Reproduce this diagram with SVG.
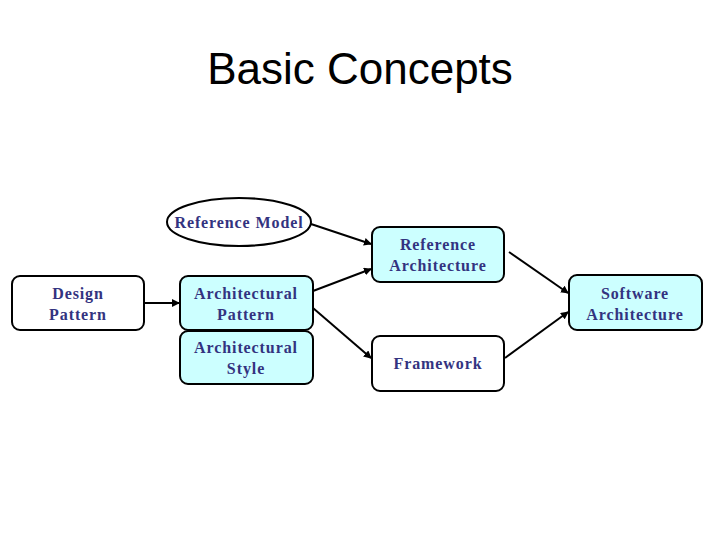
<svg xmlns="http://www.w3.org/2000/svg" width="720" height="540" viewBox="0 0 720 540">
<style>
.box{stroke:#000;stroke-width:2;}
.fill{fill:#CCFFFF;}
.white{fill:#FFFFFF;}
.lbl{font-family:"Liberation Serif","Times New Roman",serif;font-weight:bold;font-size:16px;letter-spacing:0.9px;fill:#333380;text-anchor:middle;}
.title{font-family:"Liberation Sans",Arial,sans-serif;font-size:44px;fill:#000;text-anchor:middle;}
.conn{stroke:#000;stroke-width:2;fill:none;marker-end:url(#ah);}
</style>
<defs>
<marker id="ah" markerWidth="8" markerHeight="8" refX="7" refY="4" orient="auto" markerUnits="userSpaceOnUse">
<path d="M0,0 L8,4 L0,8 z" fill="#000"/>
</marker>
</defs>
<rect width="720" height="540" fill="#fff"/>
<text class="title" x="360" y="84">Basic Concepts</text>
<g id="connectors">
<line class="conn" x1="144" y1="303" x2="179" y2="303"/>
<line class="conn" x1="311" y1="224" x2="371" y2="244"/>
<line class="conn" x1="313" y1="291" x2="371" y2="269"/>
<line class="conn" x1="313" y1="308" x2="371" y2="358"/>
<line class="conn" x1="509" y1="252" x2="568" y2="293"/>
<line class="conn" x1="505" y1="358" x2="568" y2="312"/>
</g>
<g id="reference-model">
<ellipse class="box white" cx="239" cy="222" rx="72" ry="24"/>
<text class="lbl" x="239" y="228">Reference Model</text>
</g>
<g id="reference-architecture">
<rect class="box fill" x="372" y="227" width="132" height="55" rx="8"/>
<text class="lbl" x="438" y="250">Reference</text>
<text class="lbl" x="438" y="271">Architecture</text>
</g>
<g id="design-pattern">
<rect class="box white" x="12" y="276" width="132" height="54" rx="8"/>
<text class="lbl" x="78" y="299">Design</text>
<text class="lbl" x="78" y="320">Pattern</text>
</g>
<g id="architectural-pattern">
<rect class="box fill" x="180" y="276" width="133" height="54" rx="8"/>
<text class="lbl" x="246" y="299">Architectural</text>
<text class="lbl" x="246" y="320">Pattern</text>
</g>
<g id="architectural-style">
<rect class="box fill" x="180" y="331" width="133" height="53" rx="8"/>
<text class="lbl" x="246" y="353">Architectural</text>
<text class="lbl" x="246" y="374">Style</text>
</g>
<g id="software-architecture">
<rect class="box fill" x="569" y="275" width="133" height="55" rx="8"/>
<text class="lbl" x="635" y="299">Software</text>
<text class="lbl" x="635" y="320">Architecture</text>
</g>
<g id="framework">
<rect class="box white" x="372" y="336" width="132" height="55" rx="8"/>
<text class="lbl" x="438" y="369">Framework</text>
</g>
</svg>
